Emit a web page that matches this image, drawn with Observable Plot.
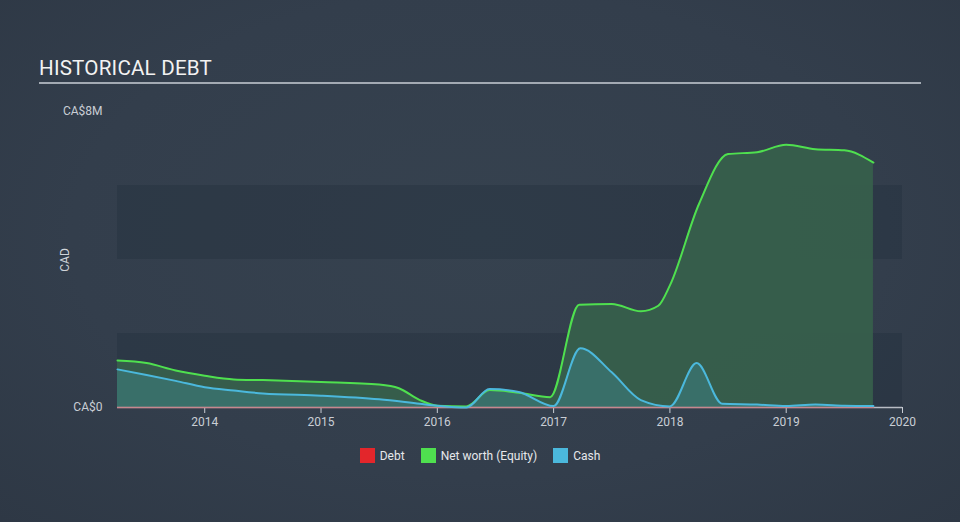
<!DOCTYPE html>
<html>
<head>
<meta charset="utf-8">
<script src="https://cdn.jsdelivr.net/npm/d3@7"></script>
<script src="https://cdn.jsdelivr.net/npm/@observablehq/plot@0.6"></script>
<style>
  html, body { margin: 0; padding: 0; }
  body {
    width: 960px; height: 522px; overflow: hidden; position: relative;
    background: radial-gradient(ellipse at 50% 45%, #36424f 0%, #333e4c 60%, #2e3845 100%);
    font-family: Roboto, "Noto Sans", sans-serif;
  }
  #title {
    position: absolute; left: 39px; top: 56px; width: 882px;
    font-size: 20.6px; color: #f2f2f2; letter-spacing: 0.2px;
    padding-bottom: 2px; border-bottom: 2px solid #a3aab3; line-height: 24px;
  }
  #chart { position: absolute; left: 0; top: 0; }
  #ylabel {
    position: absolute; left: 65px; top: 260px; color: #d0d4d9; font-size: 12px;
    transform: translate(-50%, -50%) rotate(-90deg);
  }
  #legend {
    position: absolute; top: 448px; left: 0; width: 960px;
    display: flex; justify-content: center; gap: 16px;
    font-size: 12px; color: #e6e8eb;
  }
  #legend span.item { display: flex; align-items: center; gap: 5px; }
  #legend span.sw { width: 15px; height: 15px; display: inline-block; }
</style>
</head>
<body>
<div id="title">HISTORICAL DEBT</div>
<div id="ylabel">CAD</div>
<div id="chart"></div>
<div id="legend"></div>
<script>
// ---- data ----
const netWorthDates  = [2013.25, 2013.5, 2013.75, 2014.0, 2014.25, 2014.5, 2015.0, 2015.5, 2015.67, 2015.85, 2016.0, 2016.25, 2016.45, 2016.7, 2016.97, 2017.22, 2017.5, 2017.75, 2017.9, 2018.0, 2018.25, 2018.5, 2018.75, 2019.0, 2019.25, 2019.5, 2019.75];
const netWorthValues = [1.27, 1.2, 1.0, 0.86, 0.76, 0.74, 0.69, 0.62, 0.52, 0.2, 0.05, 0.03, 0.47, 0.4, 0.28, 2.78, 2.8, 2.6, 2.75, 3.3, 5.5, 6.85, 6.9, 7.1, 6.98, 6.95, 6.62];
const cashDates  = [2013.25, 2013.5, 2013.75, 2014.0, 2014.25, 2014.5, 2015.0, 2015.5, 2015.85, 2016.0, 2016.25, 2016.45, 2016.7, 2017.0, 2017.23, 2017.5, 2017.75, 2018.0, 2018.23, 2018.45, 2018.75, 2019.0, 2019.25, 2019.5, 2019.75];
const cashValues = [1.03, 0.88, 0.72, 0.55, 0.46, 0.38, 0.32, 0.22, 0.1, 0.05, 0.0, 0.5, 0.42, 0.04, 1.6, 0.95, 0.2, 0.03, 1.2, 0.1, 0.08, 0.04, 0.08, 0.05, 0.04];
const debtDates  = [2013.25, 2019.75];
const debtValues = [0, 0];
const xTicks = [2014, 2015, 2016, 2017, 2018, 2019, 2020];
const yTicks = [0, 8];
const yTickLabels = ["CA$0", "CA$8M"];
const bandRanges = [[0, 2], [4, 6]];
const xDomain = [2013.25, 2020];
const legendItems = [["Debt", "#e3262b"], ["Net worth (Equity)", "#4fe04f"], ["Cash", "#4bb8dc"]];

const netWorth = netWorthDates.map((d, i) => ({date: d, value: netWorthValues[i]}));
const cash = cashDates.map((d, i) => ({date: d, value: cashValues[i]}));
const debt = debtDates.map((d, i) => ({date: d, value: debtValues[i]}));
const bands = bandRanges.map(([a, b]) => ({y1: a, y2: b, x1: xDomain[0], x2: xDomain[1]}));

const chart = Plot.plot({
  width: 960,
  height: 522,
  marginTop: 111,
  marginBottom: 115,
  marginLeft: 117,
  marginRight: 58,
  style: {background: "transparent", fontFamily: "Roboto, sans-serif", fontSize: "12px", color: "#c9ced5"},
  x: {domain: xDomain, ticks: xTicks, tickFormat: d => String(d), tickSize: 6, tickPadding: 4, label: null},
  y: {domain: [0, 8], ticks: yTicks, tickFormat: d => yTickLabels[yTicks.indexOf(d)], tickSize: 0, tickPadding: 15, label: null},
  marks: [
    Plot.rect(bands, {x1: "x1", x2: "x2", y1: "y1", y2: "y2", fill: "#1f2a38", fillOpacity: 0.3}),
    Plot.areaY(netWorth, {x: "date", y: "value", curve: "monotone-x", fill: "#375e4b", fillOpacity: 0.97}),
    Plot.areaY(cash, {x: "date", y: "value", curve: "monotone-x", fill: "#3a706a", fillOpacity: 0.97}),
    Plot.ruleY([0], {stroke: "#b8bcc4", strokeWidth: 1.5}),
    Plot.line(debt, {x: "date", y: "value", stroke: "#e3262b", strokeOpacity: 0.35, strokeWidth: 1.5}),
    Plot.line(netWorth, {x: "date", y: "value", curve: "monotone-x", stroke: "#4fe04f", strokeWidth: 2}),
    Plot.line(cash, {x: "date", y: "value", curve: "monotone-x", stroke: "#4bb8dc", strokeWidth: 2})
  ]
});
document.getElementById("chart").appendChild(chart);

const legend = document.getElementById("legend");
legendItems.forEach(([name, color]) => {
  const item = document.createElement("span");
  item.className = "item";
  const sw = document.createElement("span");
  sw.className = "sw";
  sw.style.background = color;
  const label = document.createElement("span");
  label.textContent = name;
  item.appendChild(sw);
  item.appendChild(label);
  legend.appendChild(item);
});
</script>
</body>
</html>
